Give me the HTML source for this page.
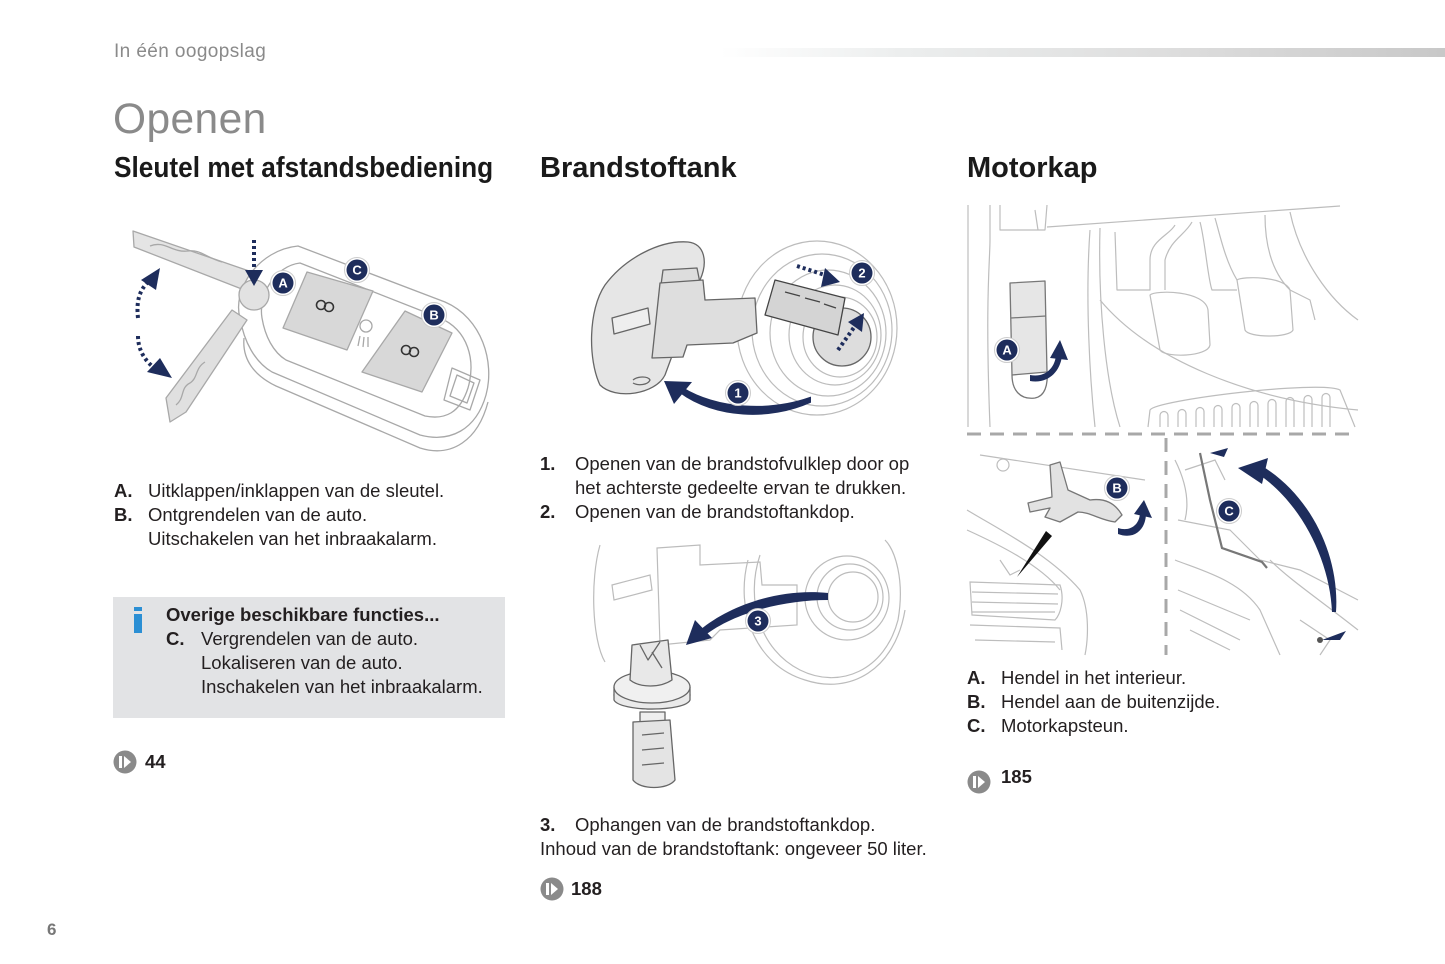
<!DOCTYPE html>
<html><head><meta charset="utf-8">
<style>
html,body{margin:0;padding:0}
body{width:1445px;height:964px;position:relative;background:#fff;overflow:hidden;font-family:"Liberation Sans",Arial,sans-serif;color:#231f20}
.t{position:absolute;white-space:nowrap;font-size:18.5px;line-height:24px}
.b{font-weight:bold}
.h{position:absolute;white-space:nowrap;font-weight:bold;font-size:29px;line-height:1;color:#1a1a1a;transform-origin:0 0}
svg{position:absolute;left:0;top:0}
</style></head>
<body>
<div style="position:absolute;left:720px;top:48px;width:725px;height:9px;background:linear-gradient(to right,#fff 0%,#eceeee 25%,#dcdcdc 65%,#c8c8c8 100%)"></div>
<div style="position:absolute;left:114px;top:42px;font-size:19px;letter-spacing:0.4px;line-height:1;color:#8a8a8a;white-space:nowrap">In één oogopslag</div>
<div style="position:absolute;left:113px;top:99px;font-size:42.5px;letter-spacing:0.4px;line-height:1;color:#8a8a8a;white-space:nowrap">Openen</div>
<div class="h" style="left:114px;top:154px;transform:scaleX(0.905)">Sleutel met afstandsbediening</div>
<div class="h" style="left:540px;top:154px">Brandstoftank</div>
<div class="h" style="left:967px;top:154px">Motorkap</div>

<!-- key list -->
<div class="t b" style="left:114px;top:479px">A.</div>
<div class="t" style="left:148px;top:479px">Uitklappen/inklappen van de sleutel.</div>
<div class="t b" style="left:114px;top:503px">B.</div>
<div class="t" style="left:148px;top:503px">Ontgrendelen van de auto.</div>
<div class="t" style="left:148px;top:527px">Uitschakelen van het inbraakalarm.</div>

<div style="position:absolute;left:113px;top:597px;width:392px;height:121px;background:#e2e3e5"></div>
<div style="position:absolute;left:134px;top:607px;width:8px;height:4px;background:#2b8fd4"></div>
<div style="position:absolute;left:134px;top:614px;width:8px;height:19px;background:#2b8fd4"></div>
<div class="t b" style="left:166px;top:603px">Overige beschikbare functies...</div>
<div class="t b" style="left:166px;top:627px">C.</div>
<div class="t" style="left:201px;top:627px">Vergrendelen van de auto.</div>
<div class="t" style="left:201px;top:651px">Lokaliseren van de auto.</div>
<div class="t" style="left:201px;top:675px">Inschakelen van het inbraakalarm.</div>
<div class="t b" style="left:145px;top:750px">44</div>

<!-- fuel list -->
<div class="t b" style="left:540px;top:452px">1.</div>
<div class="t" style="left:575px;top:452px">Openen van de brandstofvulklep door op</div>
<div class="t" style="left:575px;top:476px">het achterste gedeelte ervan te drukken.</div>
<div class="t b" style="left:540px;top:500px">2.</div>
<div class="t" style="left:575px;top:500px">Openen van de brandstoftankdop.</div>
<div class="t b" style="left:540px;top:813px">3.</div>
<div class="t" style="left:575px;top:813px">Ophangen van de brandstoftankdop.</div>
<div class="t" style="left:540px;top:837px">Inhoud van de brandstoftank: ongeveer 50 liter.</div>
<div class="t b" style="left:571px;top:877px">188</div>

<!-- hood list -->
<div class="t b" style="left:967px;top:666px">A.</div>
<div class="t" style="left:1001px;top:666px">Hendel in het interieur.</div>
<div class="t b" style="left:967px;top:690px">B.</div>
<div class="t" style="left:1001px;top:690px">Hendel aan de buitenzijde.</div>
<div class="t b" style="left:967px;top:714px">C.</div>
<div class="t" style="left:1001px;top:714px">Motorkapsteun.</div>
<div class="t b" style="left:1001px;top:765px">185</div>

<div style="position:absolute;left:47px;top:921px;font-size:17px;line-height:1;font-weight:bold;color:#777">6</div>

<svg width="1445" height="964" viewBox="0 0 1445 964" xmlns="http://www.w3.org/2000/svg">
<defs>
<g id="ref"><circle r="11.5" fill="#8a8a8a"/><rect x="-6" y="-6" width="3" height="12" fill="#fff"/><path d="M-1,-6 L6,0 L-1,6 Z" fill="#fff"/></g>
</defs>
<use href="#ref" x="125" y="762"/>
<use href="#ref" x="552" y="889"/>
<use href="#ref" x="979" y="782"/>

<!-- ===== KEY ===== -->
<g stroke="#a8a8a8" stroke-width="1.3" fill="none" stroke-linejoin="round">
 <path d="M133,231 L252,272 L252,293 L134,247 Z" fill="#e4e4e4"/>
 <path d="M150,246 C165,240 172,253 188,251 C200,249 207,258 222,262"/>
 <path d="M244,338 C242,360 255,376 276,386 L420,448 C452,458 478,440 488,402" fill="#fff"/>
 <path d="M240,318 C232,290 258,250 298,246 L445,302 C482,318 495,362 486,395 C476,430 450,443 420,435 L272,372 C255,362 244,342 240,318 Z" fill="#fff"/>
 <path d="M262,318 C258,295 275,266 300,263 L440,318 C468,330 476,360 468,388 C460,413 445,420 425,416 L286,360 C273,352 265,336 262,318 Z"/>
 <path d="M307,272 L373,291 L347,350 L283,328 Z" fill="#d8d8d8"/>
 <path d="M405,311 L452,333 L422,392 L362,372 Z" fill="#d8d8d8"/>
 <path d="M452,368 L480,380 L470,410 L444,400 Z"/>
 <path d="M457,375 L474,383 L467,403 L450,396 Z"/>
 <circle cx="254" cy="295" r="15" fill="#e2e2e2"/>
 <path d="M232,310 L247,320 L186,412 L170,422 L166,398 Z" fill="#e0e0e0"/>
 <path d="M176,405 C185,398 180,388 190,383 C198,378 195,368 205,362"/>
 <circle cx="366" cy="326" r="6"/>
 <path d="M360,336 L358,346 M364,337 L363,347 M368,337 L368,347"/>
</g>
<g stroke="#333" stroke-width="1.6" fill="none">
 <circle cx="321" cy="305" r="4.5"/><circle cx="329" cy="307" r="4.5"/>
 <circle cx="406" cy="350" r="4.5"/><circle cx="414" cy="352" r="4.5"/>
</g>
<g fill="#1e2d5c" stroke="#1e2d5c">
 <path d="M254,240 L254,272" stroke-width="4" stroke-dasharray="3,3" fill="none"/>
 <path d="M245,270 L263,270 L254,286 Z" stroke="none"/>
 <path d="M138,318 C136,300 140,290 148,282" stroke-width="4" stroke-dasharray="3,3" fill="none"/>
 <path d="M141,280 L160,268 L156,290 Z" stroke="none"/>
 <path d="M138,336 C138,350 145,360 152,366" stroke-width="4" stroke-dasharray="3,3" fill="none"/>
 <path d="M147,372 L172,378 L160,358 Z" stroke="none"/>
</g>
<g font-family="Liberation Sans,Arial,sans-serif" font-weight="bold" font-size="13" text-anchor="middle">
 <g transform="translate(283,283)"><circle r="12.5" fill="#fff" stroke="#ccc"/><circle r="10.5" fill="#1e2d5c"/><text y="4.6" fill="#fff">A</text></g>
 <g transform="translate(357,270)"><circle r="12.5" fill="#fff" stroke="#ccc"/><circle r="10.5" fill="#1e2d5c"/><text y="4.6" fill="#fff">C</text></g>
 <g transform="translate(434,315)"><circle r="12.5" fill="#fff" stroke="#ccc"/><circle r="10.5" fill="#1e2d5c"/><text y="4.6" fill="#fff">B</text></g>
</g>

<!-- ===== FUEL 1 ===== -->
<g stroke="#bcbcbc" stroke-width="1.2" fill="none">
 <ellipse cx="817" cy="328" rx="80" ry="87"/>
 <ellipse cx="822" cy="330" rx="70" ry="76"/>
 <ellipse cx="828" cy="333" rx="58" ry="63"/>
 <ellipse cx="835" cy="335" rx="46" ry="50"/>
 <ellipse cx="840" cy="337" rx="37" ry="40"/>
</g>
<g stroke="#666" stroke-width="1.3" fill="none" stroke-linejoin="round">
 <path d="M600,385 C588,360 588,310 605,285 C625,258 660,240 688,242 C705,244 708,262 700,280 L665,375 C655,395 615,400 600,385 Z" fill="#e6e6e6"/>
 <path d="M612,318 L648,308 L650,324 L614,334 Z" fill="#eee"/>
 <path d="M633,380 C638,376 648,376 650,380 C648,385 638,386 633,383"/>
 <path d="M663,270 L697,268 L700,283 L661,285 Z" fill="#ddd"/>
 <path d="M660,283 L703,280 L705,300 L755,298 L757,333 L733,343 L687,345 L683,357 L652,358 Z" fill="#dedede"/>
 <circle cx="842" cy="337" r="29" fill="#ddd"/>
 <path d="M775,280 L845,298 L838,335 L765,315 Z" fill="#d4d4d4" stroke="#444"/>
 <path d="M785,292 L800,296 M805,298 L820,302 M824,304 L836,308" stroke="#444"/>
</g>
<g fill="#1e2d5c" stroke="#1e2d5c">
 <path d="M810,402 C770,420 715,418 680,392 L682,388 C718,410 770,412 810,398 Z" stroke-width="2"/>
 <path d="M664,381 L692,382 L674,404 Z" stroke="none"/>
 <path d="M797,266 L828,276" stroke-width="4" stroke-dasharray="3,3" fill="none"/>
 <path d="M825,268 L840,282 L821,287 Z" stroke="none"/>
 <path d="M838,350 L855,326" stroke-width="4" stroke-dasharray="3,3" fill="none"/>
 <path d="M848,322 L864,313 L862,332 Z" stroke="none"/>
</g>
<g font-family="Liberation Sans,Arial,sans-serif" font-weight="bold" font-size="13" text-anchor="middle">
 <g transform="translate(738,393)"><circle r="12.5" fill="#fff" stroke="#ccc"/><circle r="10.5" fill="#1e2d5c"/><text y="4.6" fill="#fff">1</text></g>
 <g transform="translate(862,273)"><circle r="12.5" fill="#fff" stroke="#ccc"/><circle r="10.5" fill="#1e2d5c"/><text y="4.6" fill="#fff">2</text></g>
</g>

<!-- ===== FUEL 2 ===== -->
<g stroke="#bcbcbc" stroke-width="1.2" fill="none">
 <path d="M600,545 C590,580 592,640 605,662"/>
 <path d="M612,585 L650,575 L652,590 L614,600 Z"/>
 <path d="M657,548 L700,545 L700,565 L760,562 L762,585 L797,585 L797,625 L720,630 L710,640 L660,645 Z"/>
 <path d="M760,555 C745,600 760,650 800,670 C840,690 885,670 898,620 C905,580 895,550 885,540"/>
 <path d="M748,560 C735,610 755,665 805,680 C850,695 895,670 905,610"/>
 <circle cx="853" cy="597" r="25"/><circle cx="850" cy="597" r="33"/><circle cx="847" cy="598" r="42"/>
</g>
<g stroke="#666" stroke-width="1.3" fill="none" stroke-linejoin="round">
 <ellipse cx="652" cy="695" rx="38" ry="14" fill="#eaeaea"/>
 <path d="M614,687 L614,700 C620,712 685,712 690,700 L690,687" fill="#eaeaea"/>
 <ellipse cx="652" cy="687" rx="38" ry="16" fill="#f0f0f0"/>
 <path d="M632,645 L668,640 L672,680 C660,688 640,688 630,680 Z" fill="#e8e8e8"/>
 <path d="M640,645 L648,660 L660,642 M652,652 L662,668"/>
 <path d="M640,712 L665,712 L665,722 L640,722 Z" fill="#eee"/>
 <path d="M633,722 L670,720 L675,780 C668,790 640,790 633,780 Z" fill="#e4e4e4"/>
 <path d="M642,735 L664,733 M642,750 L664,748 M642,765 L664,763"/>
</g>
<g fill="#1e2d5c">
 <path d="M828,593 C780,588 730,605 700,630 L704,636 C735,612 785,600 828,600 Z"/>
 <path d="M686,645 L695,620 L712,638 Z"/>
</g>
<g font-family="Liberation Sans,Arial,sans-serif" font-weight="bold" font-size="13" text-anchor="middle">
 <g transform="translate(758,621)"><circle r="12.5" fill="#fff" stroke="#ccc"/><circle r="10.5" fill="#1e2d5c"/><text y="4.6" fill="#fff">3</text></g>
</g>

<!-- ===== HOOD ===== -->
<g stroke="#bdbdbd" stroke-width="1.2" fill="none" stroke-linejoin="round">
 <path d="M968,205 L968,427 M990,205 L990,240 C990,260 985,300 990,427"/>
 <path d="M1000,205 L1000,230 L1045,230 L1047,205 M1035,210 L1038,230"/>
 <path d="M1047,227 L1340,206"/>
 <path d="M1090,230 C1085,300 1090,380 1095,427"/>
 <path d="M1100,228 C1098,300 1105,380 1120,427"/>
 <path d="M1115,232 L1117,290 L1150,290 L1150,260 C1150,240 1170,235 1175,225"/>
 <path d="M1150,295 C1155,290 1205,290 1208,310 L1210,345 C1208,357 1165,358 1160,350 Z"/>
 <path d="M1165,290 L1165,260 C1170,240 1185,235 1192,222"/>
 <path d="M1200,222 C1205,240 1208,280 1212,290 L1237,290"/>
 <path d="M1237,280 C1242,276 1285,276 1290,290 L1293,330 C1290,338 1248,338 1245,330 Z"/>
 <path d="M1215,218 C1220,235 1225,260 1237,280"/>
 <path d="M1265,215 C1265,240 1270,270 1290,290 L1310,300 L1315,320"/>
 <path d="M1290,212 C1300,260 1330,300 1358,320"/>
 <path d="M1100,300 C1150,360 1250,400 1358,410"/>
 <path d="M1148,427 L1150,410 C1155,400 1320,380 1340,390 L1355,427"/>
 <path d="M1160,427 L1160,416 C1160,410 1168,410 1168,416 L1168,427 M1178,427 L1178,414 C1178,408 1186,408 1186,414 L1186,427 M1196,427 L1196,412 C1196,406 1204,406 1204,412 L1204,427 M1214,427 L1214,410 C1214,404 1222,404 1222,410 L1222,427 M1232,427 L1232,408 C1232,402 1240,402 1240,408 L1240,427 M1250,427 L1250,406 C1250,400 1258,400 1258,406 L1258,427 M1268,427 L1268,404 C1268,398 1276,398 1276,404 L1276,427 M1286,427 L1286,402 C1286,396 1294,396 1294,402 L1294,427 M1304,427 L1304,400 C1304,394 1312,394 1312,400 L1312,427 M1322,427 L1322,398 C1322,392 1330,392 1330,398 L1330,427"/>
</g>
<g stroke="#777" stroke-width="1.3" fill="none" stroke-linejoin="round">
 <path d="M1012,375 C1012,390 1020,400 1035,398 C1045,396 1048,385 1047,372"/>
 <path d="M1010,283 L1045,281 L1047,372 L1012,375 Z" fill="#e6e6e6"/>
 <path d="M1011,318 L1046,316"/>
</g>
<g fill="#1e2d5c">
 <path d="M1030,375 C1045,378 1055,368 1056,355 L1062,356 C1060,372 1048,384 1030,381 Z"/>
 <path d="M1050,358 L1060,340 L1068,360 Z"/>
</g>
<!-- dashed dividers -->
<path d="M967,434 L1350,434" stroke="#a8a8a8" stroke-width="3" stroke-dasharray="14,9"/>
<path d="M1166,438 L1166,655" stroke="#a8a8a8" stroke-width="3" stroke-dasharray="14,9"/>
<!-- bottom left -->
<g stroke="#bdbdbd" stroke-width="1.2" fill="none">
 <path d="M980,455 L1145,480"/>
 <circle cx="1003" cy="465" r="6"/>
 <path d="M967,510 C1000,530 1050,555 1080,590 C1090,610 1088,640 1085,655"/>
 <path d="M967,530 C1000,545 1040,565 1060,590"/>
 <path d="M970,582 L1060,585 C1065,600 1060,615 1055,620 L972,615 Z"/>
 <path d="M972,592 L1058,594 M972,602 L1058,604 M972,612 L1055,612"/>
 <path d="M970,625 L1060,628 L1062,650 M975,640 L1055,642"/>
 <path d="M1000,560 L1010,575 L1020,570"/>
</g>
<g stroke="#777" stroke-width="1.3" fill="none" stroke-linejoin="round">
 <path d="M1050,465 L1060,462 L1068,490 L1090,500 C1105,498 1115,503 1122,515 L1115,522 C1100,520 1090,512 1078,512 L1060,522 L1045,517 L1050,508 L1030,512 L1028,503 L1052,497 Z" fill="#e2e2e2"/>
</g>
<path d="M1017,577 L1046,531 L1052,536 Z" fill="#111"/>
<g fill="#1e2d5c">
 <path d="M1118,528 C1130,532 1140,525 1140,512 L1146,513 C1146,530 1134,540 1118,534 Z"/>
 <path d="M1134,514 L1144,500 L1152,518 Z"/>
</g>
<!-- bottom right -->
<g stroke="#bdbdbd" stroke-width="1.2" fill="none">
 <path d="M1175,460 C1185,480 1190,500 1185,520"/>
 <path d="M1178,520 L1230,530 L1260,560 L1300,570 L1358,600"/>
 <path d="M1175,560 C1200,570 1240,580 1260,610 L1280,655"/>
 <path d="M1178,590 L1250,620 M1180,610 L1240,640 M1190,630 L1230,650"/>
 <path d="M1270,560 C1290,580 1320,600 1358,630"/>
 <path d="M1185,470 L1215,460 L1225,480"/>
 <path d="M1300,620 L1330,640 L1320,655"/>
</g>
<path d="M1200,453 L1210,500 L1222,548 L1262,562 L1267,568" stroke="#777" stroke-width="2.2" fill="none"/>
<g fill="#1e2d5c">
 <path d="M1332,612 C1330,560 1300,500 1255,472 L1262,466 C1310,495 1340,555 1336,612 Z"/>
 <path d="M1238,468 L1268,458 L1262,484 Z"/>
 <path d="M1210,453 L1228,448 L1224,457 Z"/>
 <path d="M1322,640 L1346,631 L1340,640 Z"/>
</g>
<circle cx="1320" cy="640" r="3" fill="#555"/>
<g font-family="Liberation Sans,Arial,sans-serif" font-weight="bold" font-size="13" text-anchor="middle">
 <g transform="translate(1007,350)"><circle r="12.5" fill="#fff" stroke="#ccc"/><circle r="10.5" fill="#1e2d5c"/><text y="4.6" fill="#fff">A</text></g>
 <g transform="translate(1117,488)"><circle r="12.5" fill="#fff" stroke="#ccc"/><circle r="10.5" fill="#1e2d5c"/><text y="4.6" fill="#fff">B</text></g>
 <g transform="translate(1229,511)"><circle r="12.5" fill="#fff" stroke="#ccc"/><circle r="10.5" fill="#1e2d5c"/><text y="4.6" fill="#fff">C</text></g>
</g>
</svg>
</body></html>
